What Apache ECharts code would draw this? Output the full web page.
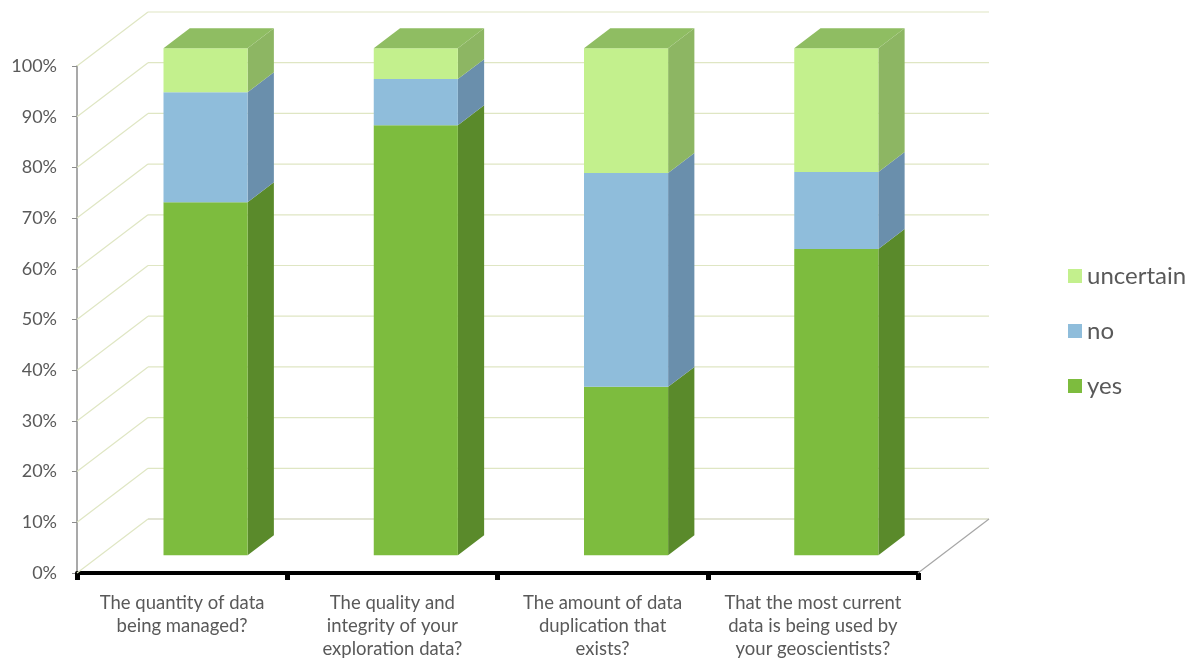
<!DOCTYPE html>
<html>
<head>
<meta charset="utf-8">
<script src="https://cdn.jsdelivr.net/npm/echarts@6/dist/echarts.min.js"></script>
<style>
  html, body { margin: 0; padding: 0; background: #fff; }
  #chart { width: 1202px; height: 664px; }
</style>
</head>
<body>
<div id="chart"></div>
<script>
// categories and values (percent of answers)
const categories = [
  'The quantity of data\nbeing managed?',
  'The quality and\nintegrity of your\nexploration data?',
  'The amount of data\nduplication that\nexists?',
  'That the most current\ndata is being used by\nyour geoscientists?'
];
const yesValues = [69.6, 84.8, 33.2, 60.4];
const noValues = [21.7, 9.1, 42.2, 15.2];
const uncertainValues = [8.7, 6.1, 24.6, 24.4];
const yTicks = [0, 10, 20, 30, 40, 50, 60, 70, 80, 90, 100];

// 3d look: depth of the plot box in pixels, bars sit between f0 and f1 of it
const DX = 71, DY = 54;
const F0 = 0.33, F1 = 0.70;

const colors = {
  yes: { front: '#7dbc3e', side: '#5a8a2b', top: '#6fa537' },
  no: { front: '#8fbddb', side: '#6a8fac', top: '#7aa4c2' },
  uncertain: { front: '#c3f08d', side: '#8db663', top: '#8fbd62' }
};

const chart = echarts.init(document.getElementById('chart'));

// walls: side-wall diagonals + back-wall gridlines for each tick
function renderWall(params, api) {
  const v = api.value(1);
  const band = api.size([1, 0])[0];
  const p0 = api.coord([0, v]);
  const p1 = api.coord([categories.length - 1, v]);
  const xl = p0[0] - band / 2;
  const xr = p1[0] + band / 2;
  const y = p0[1];
  const children = [
    { type: 'line', shape: { x1: xl, y1: y, x2: xl + DX, y2: y - DY },
      style: { stroke: '#dfe6c3', lineWidth: 1.2 } },
    { type: 'line', shape: { x1: xl + DX, y1: y - DY, x2: xr + DX, y2: y - DY },
      style: { stroke: v === 0 ? '#c5c9aa' : '#dfe6c3', lineWidth: 1.2 } }
  ];
  if (v === 0) {
    children.push({ type: 'line', shape: { x1: xr, y1: y, x2: xr + DX, y2: y - DY },
      style: { stroke: '#a6a6a6', lineWidth: 1.2 } });
  }
  return { type: 'group', children: children };
}

function makeBarRenderer(c) {
  return function (params, api) {
    const i = api.value(0);
    const base = api.value(1);
    const val = api.value(2);
    const isTop = api.value(3) === 1;
    const band = api.size([1, 0])[0];
    const w = band * 0.4;
    const b = api.coord([i, base]);
    const t = api.coord([i, base + val]);
    const x0 = b[0] - w / 2 + F0 * DX;
    const x1 = x0 + w;
    const yb = b[1] - F0 * DY;
    const yt = t[1] - F0 * DY;
    const ddx = (F1 - F0) * DX, ddy = (F1 - F0) * DY;
    const children = [
      { type: 'polygon', shape: { points: [[x1, yb], [x1 + ddx, yb - ddy], [x1 + ddx, yt - ddy], [x1, yt]] },
        style: { fill: c.side } },
      { type: 'rect', shape: { x: x0, y: yt, width: w, height: yb - yt },
        style: { fill: c.front } }
    ];
    if (isTop) {
      children.push({ type: 'polygon',
        shape: { points: [[x0, yt], [x1, yt], [x1 + ddx, yt - ddy], [x0 + ddx, yt - ddy]] },
        style: { fill: c.top } });
    }
    return { type: 'group', children: children };
  };
}

const yesData = categories.map((c, i) => [i, 0, yesValues[i], 0]);
const noData = categories.map((c, i) => [i, yesValues[i], noValues[i], 0]);
const uncData = categories.map((c, i) => [i, yesValues[i] + noValues[i], uncertainValues[i], 1]);

const option = {
  animation: false,
  textStyle: { fontFamily: 'Lato, "Open Sans", sans-serif' },
  grid: { left: 77, right: 284, top: 66, height: 507 },
  legend: {
    data: ['uncertain', 'no', 'yes'],
    orient: 'vertical',
    left: 1063,
    top: 259,
    itemWidth: 14,
    itemHeight: 14,
    itemGap: 31,
    icon: 'rect',
    textStyle: { color: '#595959', fontSize: 24 }
  },
  xAxis: {
    type: 'category',
    data: categories,
    axisLine: { lineStyle: { color: '#000', width: 4 } },
    axisTick: { show: true, length: 7, lineStyle: { color: '#000', width: 5 } },
    axisLabel: { interval: 0, color: '#595959', fontSize: 18.5, lineHeight: 23, margin: 19 },
    splitLine: { show: false }
  },
  yAxis: {
    type: 'value',
    min: 0,
    max: 100,
    interval: 10,
    axisLine: { show: true, lineStyle: { color: '#8c8c8c', width: 1.5 } },
    axisTick: { show: true, length: 5, lineStyle: { color: '#8c8c8c' } },
    axisLabel: { formatter: '{value}%', color: '#595959', fontSize: 18, margin: 20 },
    splitLine: { show: false }
  },
  series: [
    {
      type: 'custom', name: 'walls', z: 1, silent: true,
      renderItem: renderWall,
      encode: { x: 0, y: 1 },
      data: yTicks.map(v => [0, v])
    },
    {
      type: 'custom', name: 'yes', z: 2,
      itemStyle: { color: colors.yes.front },
      renderItem: makeBarRenderer(colors.yes),
      encode: { x: 0, y: 1 },
      data: yesData
    },
    {
      type: 'custom', name: 'no', z: 2,
      itemStyle: { color: colors.no.front },
      renderItem: makeBarRenderer(colors.no),
      encode: { x: 0, y: 1 },
      data: noData
    },
    {
      type: 'custom', name: 'uncertain', z: 2,
      itemStyle: { color: colors.uncertain.front },
      renderItem: makeBarRenderer(colors.uncertain),
      encode: { x: 0, y: 1 },
      data: uncData
    }
  ]
};

chart.setOption(option);
</script>
</body>
</html>
